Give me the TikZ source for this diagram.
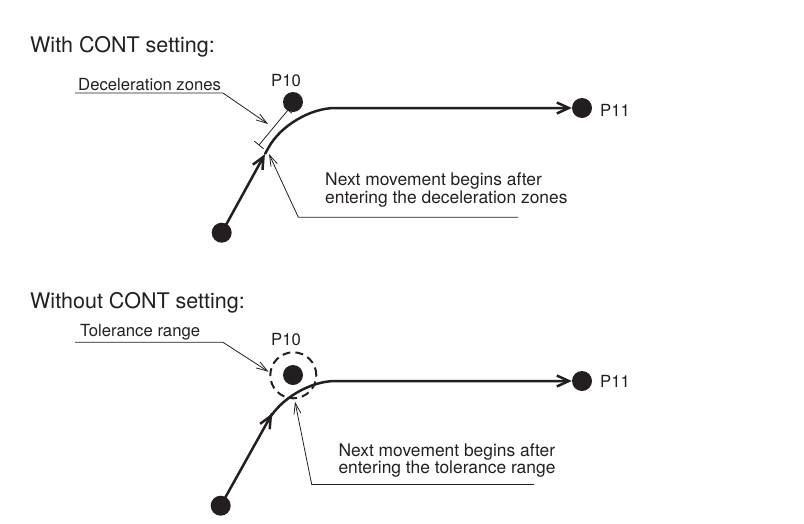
\documentclass[tikz,border=0pt]{standalone}
\usepackage{fontspec}
\setmainfont{TeX Gyre Heros}
\usetikzlibrary{arrows.meta,calc}
\definecolor{ink}{HTML}{231F20}
\begin{document}
\begin{tikzpicture}[x=1pt,y=-1pt,
  every node/.style={inner sep=0pt, text=ink},
  titletext/.style={anchor=base west, font=\fontsize{21.5}{25}\selectfont},
  lbl/.style={anchor=base west, font=\fontsize{16.7}{20}\selectfont},
  note/.style={anchor=base west, font=\fontsize{17.4}{20}\selectfont},
  dot/.style={circle, fill=ink, minimum size=20pt, inner sep=0pt},
  mainpath/.style={draw=ink, line width=2.5pt},
  mainarrow/.style={-{Straight Barb[length=12pt,width=11pt]}},
  leader/.style={draw=ink, line width=0.8pt},
  leadarrow/.style={-{Straight Barb[length=11pt,width=7pt]}},
  tolcircle/.style={circle, draw=ink, line width=2pt, dash pattern=on 8pt off 5pt, minimum size=46pt, inner sep=0pt}
]
\useasboundingbox (0,0) rectangle (804,523);

% ---------- top: with CONT ----------
\node[titletext] (title1) at (30,52) {With CONT setting:};
\node[lbl] (dz) at (78,90) {Deceleration zones};
\node[lbl] (p10lblA) at (271,86) {P10};
\node[lbl] (p11lblA) at (600,116) {P11};
\node[note] (nextA1) at (325,185) {Next movement begins after};
\node[note] (nextA2) at (325,203.8) {entering the deceleration zones};

\node[dot] (sA) at (221.7,232.7) {};
\node[dot] (p10A) at (293,102) {};
\node[dot] (p11A) at (582,108) {};
\coordinate (cA) at (290.3,108);
\coordinate (aA) at ($(sA.center)!0.63!(cA)$);
\draw[mainpath, mainarrow] (sA.center) -- (aA);
\draw[mainpath, rounded corners=45pt, mainarrow] (aA) -- (cA) -- (p11A.west);

% deceleration zone marks
\coordinate (z1) at (259,145);
\coordinate (z2) at (288,110);
\draw[leader] (z1) -- (z2);
\draw[leader] ($(z1)!6pt!90:(z2)$) -- ($(z1)!6pt!-90:(z2)$);
\draw[leader] ($(z2)!5pt!90:(z1)$) -- ($(z2)!5pt!-90:(z1)$);

% leaders
\coordinate (dzL) at (75,93);
\coordinate (dzR) at (223,93);
\coordinate (dzT) at (268,124);
\draw[leader, leadarrow] (dzL) -- (dzR) -- (dzT);
\coordinate (nAR) at (518,217.3);
\coordinate (nAL) at (298.3,217.3);
\coordinate (nAT) at (269,154);
\draw[leader, leadarrow] (nAR) -- (nAL) -- (nAT);

% ---------- bottom: without CONT ----------
\node[titletext] (title2) at (30,308) {Without CONT setting:};
\node[lbl] (tr) at (80,336) {Tolerance range};
\node[lbl] (p10lblB) at (271,345) {P10};
\node[lbl] (p11lblB) at (600,387.5) {P11};
\node[note] (nextB1) at (338.3,456) {Next movement begins after};
\node[note] (nextB2) at (338.3,473) {entering the tolerance range};

\node[tolcircle] (tol) at (293.3,375.3) {};
\node[dot] (sB) at (220.7,505.7) {};
\node[dot] (p10B) at (293,375) {};
\node[dot] (p11B) at (582,381) {};
\coordinate (cB) at (290.3,381);
\coordinate (aB) at ($(sB.center)!0.74!(cB)$);
\draw[mainpath, mainarrow] (sB.center) -- (aB);
\draw[mainpath, rounded corners=45pt, mainarrow] (aB) -- (cB) -- (p11B.west);

\coordinate (trL) at (75,342.3);
\coordinate (trR) at (223,342.3);
\coordinate (trT) at (268.5,371.7);
\draw[leader, leadarrow] (trL) -- (trR) -- (trT);
\coordinate (nBR) at (534,484.5);
\coordinate (nBL) at (311.7,484.5);
\coordinate (nBT) at (295,401.7);
\draw[leader, leadarrow] (nBR) -- (nBL) -- (nBT);
\end{tikzpicture}
\end{document}
